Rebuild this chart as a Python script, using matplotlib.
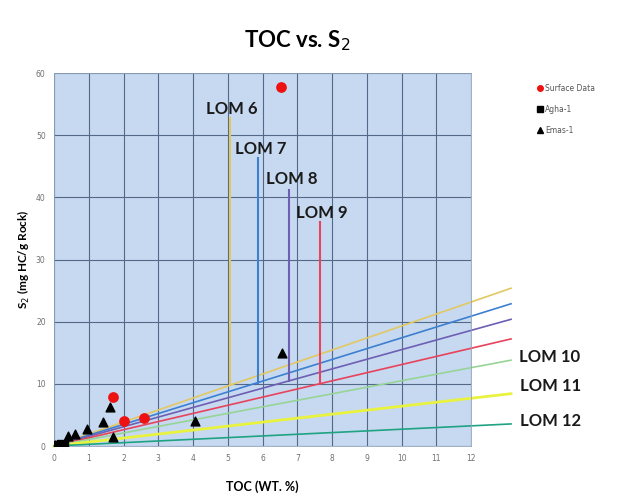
import numpy as np
import matplotlib
matplotlib.use("Agg")
import matplotlib.pyplot as plt
from matplotlib.lines import Line2D

# LOM (level of organic metamorphism) trend lines: S2 = slope * TOC
lom_names = ["LOM 6", "LOM 7", "LOM 8", "LOM 9", "LOM 10", "LOM 11", "LOM 12"]
lom_slopes = [1.93, 1.74, 1.55, 1.31, 1.05, 0.64, 0.27]
lom_colors = ["#e3c862", "#3d7fd0", "#6e5fb3", "#e8435c", "#96d596", "#e9f23f", "#1fa383"]

# vertical cut-offs for LOM 6-9 (TOC where the line turns upward, and top S2)
lom_vert_toc = [5.05, 5.87, 6.76, 7.65]
lom_vert_top = [52.7, 46.3, 41.2, 36.1]

# samples
surface_toc = [6.53, 1.71, 2.0, 2.6]
surface_s2 = [57.7, 7.9, 4.1, 4.5]

agha_toc = [0.02, 0.08, 0.14, 0.2, 0.26, 0.32, 0.1, 0.18]
agha_s2 = [0.05, 0.1, 0.2, 0.15, 0.3, 0.4, 0.35, 0.5]

emas_toc = [0.03, 0.41, 0.6, 0.94, 1.42, 1.61, 1.71, 4.05, 6.57]
emas_s2 = [0.1, 1.6, 2.0, 2.8, 3.9, 6.3, 1.5, 4.0, 14.9]

x_ticks = list(range(0, 13))
y_ticks = list(range(0, 70, 10))

fig = plt.figure(figsize=(6.17, 4.98), dpi=100)
ax = fig.add_axes([0.0875, 0.1044, 0.676, 0.749])
ax.set_facecolor("#c6d9f0")
ax.set_xlim(0, 12)
ax.set_ylim(0, 60)

ax.set_xticks(x_ticks)
ax.set_yticks(y_ticks)
ax.tick_params(length=0, labelsize=5.5, labelcolor="#707070", pad=6)
ax.grid(True, color="#52698a", linewidth=0.8)
ax.set_axisbelow(True)
for sp in ax.spines.values():
    sp.set_color("#8fa4bd")
    sp.set_linewidth(0.6)

# diagonal lines run a little past the right edge of the plot area
x_end = 13.15
for name, slope, color in zip(lom_names, lom_slopes, lom_colors):
    lw = 2.0 if name == "LOM 11" else 1.2
    ax.plot([0, x_end], [0, slope * x_end], color=color, lw=lw,
            clip_on=False, zorder=2)

for i, (xv, top) in enumerate(zip(lom_vert_toc, lom_vert_top)):
    ax.plot([xv, xv], [lom_slopes[i] * xv, top], color=lom_colors[i],
            lw=1.5, zorder=2)

ax.scatter(agha_toc, agha_s2, marker="s", s=22, color="black", zorder=4)
ax.scatter(emas_toc, emas_s2, marker="^", s=40, color="black", zorder=4)
ax.scatter(surface_toc, surface_s2, marker="o", s=45, color="#ee1111",
           zorder=5)

# LOM labels
label_pos = [(5.1, 54.2), (5.95, 47.8), (6.85, 43.0), (7.7, 37.5),
             (14.25, 14.3), (14.3, 9.6), (14.3, 4.0)]
for name, (lx, ly) in zip(lom_names, label_pos):
    ax.text(lx, ly, name, fontsize=12, fontweight="bold", color="#1a1a1a",
            family="Lato", ha="center", va="center", clip_on=False, zorder=6)

ax.set_xlabel("TOC (WT. %)", fontsize=9, fontweight="bold", family="Lato",
              labelpad=12)
ax.set_ylabel("S$_2$ (mg HC/g Rock)", fontsize=8.5, fontweight="bold",
              family="Lato", labelpad=3)
fig.text(0.482, 0.918, "TOC vs. S$_2$", fontsize=16, fontweight="bold",
         family="Lato", ha="center", va="center")

handles = [
    Line2D([], [], marker="o", ls="", color="#ee1111", markersize=4),
    Line2D([], [], marker="s", ls="", color="black", markersize=4),
    Line2D([], [], marker="^", ls="", color="black", markersize=4),
]
ax.legend(handles, ["Surface Data", "Agha-1", "Emas-1"], loc="upper left",
          bbox_to_anchor=(1.14, 0.99), frameon=False, fontsize=5.5,
          handletextpad=0.1, labelspacing=1.6, handlelength=1.0,
          labelcolor="#555555")

fig.savefig("out.png", dpi=100)
